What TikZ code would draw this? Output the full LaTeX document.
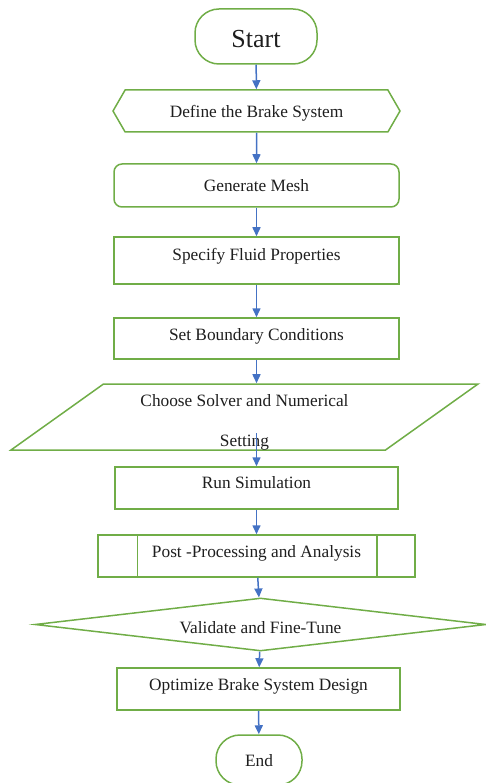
\documentclass[tikz,border=0pt]{standalone}
\usepackage{fontspec}
\setmainfont{Liberation Serif}
\usetikzlibrary{shapes.geometric,shapes.symbols,arrows.meta}

\definecolor{boxgreen}{RGB}{112,173,71}
\definecolor{flowblue}{RGB}{68,114,196}
\definecolor{labelgray}{RGB}{30,30,30}

\tikzset{
  box/.style={draw=boxgreen, line width=1.5pt, text=labelgray, font=\fontsize{17.3}{20}\selectfont, inner sep=0pt},
  terminal/.style={box, rectangle, rounded corners=24pt},
  process/.style={box, rectangle, minimum width=285pt, minimum height=43pt},
  flow/.style={draw=flowblue, line width=1.5pt, -{Triangle[width=8pt,length=9pt]}}
}

\begin{document}
\begin{tikzpicture}[x=1pt,y=1pt,yscale=-1,xscale=1]
\useasboundingbox (0,0) rectangle (486,783);

% Terminals and steps
\node[terminal, minimum width=122pt, minimum height=55pt, text height=22pt, font=\fontsize{26}{30}\selectfont] (start) at (256,36.5) {Start};
\node[box, signal, signal to=west and east, signal pointer angle=120, minimum width=287pt, minimum height=42pt, text height=16pt] (define) at (256.5,111) {Define the Brake System};
\node[process, rounded corners=8pt] (mesh) at (256.5,185.5) {Generate Mesh};
\node[process, minimum height=47pt, text depth=13pt] (fluid) at (256.5,260.5) {Specify Fluid Properties};
\node[process, minimum height=41pt, text depth=9pt] (bound) at (256.5,338.5) {Set Boundary Conditions};
\node[box, trapezium, trapezium left angle=35.4, trapezium right angle=144.6, trapezium stretches body=true, minimum width=467pt, minimum height=66pt, text height=62pt, align=center] (choose) at (244.5,417) {Choose Solver and Numerical\\[20pt]Setting};
\coordinate (chooseout) at (256.5,433);
\node[process, minimum width=283pt, minimum height=42pt, text depth=11pt] (run) at (256.5,488) {Run Simulation};
\node[process, minimum width=317pt, minimum height=42pt, text depth=10pt] (post) at (256.5,556) {Post -Processing and Analysis};
\draw[draw=boxgreen, line width=1.5pt] ([xshift=40pt]post.north west) -- ([xshift=40pt]post.south west);
\draw[draw=boxgreen, line width=1.5pt] ([xshift=-39pt]post.north east) -- ([xshift=-39pt]post.south east);
\node[box, diamond, aspect=8, minimum width=451pt, minimum height=53pt, text height=18pt] (check) at (260.5,624.5) {Validate and Fine-Tune};
\node[process, minimum width=283pt, minimum height=42pt, text depth=9pt] (opt) at (258.5,689) {Optimize Brake System Design};
\node[terminal, minimum width=86pt, minimum height=50pt, text height=14pt] (end) at (259,760) {End};

% Connectors
\draw[flow] (start) -- (define);
\draw[flow] (define) -- (mesh);
\draw[flow] (mesh) -- (fluid);
\draw[flow] (fluid) -- (bound);
\draw[flow] (bound) -- (bound |- choose.north);
\draw[flow] (chooseout) -- (run);
\draw[flow] (run) -- (post);
\draw[flow] (post) -- (check);
\draw[flow] (check) -- (opt);
\draw[flow] (opt) -- (end);

\end{tikzpicture}
\end{document}
